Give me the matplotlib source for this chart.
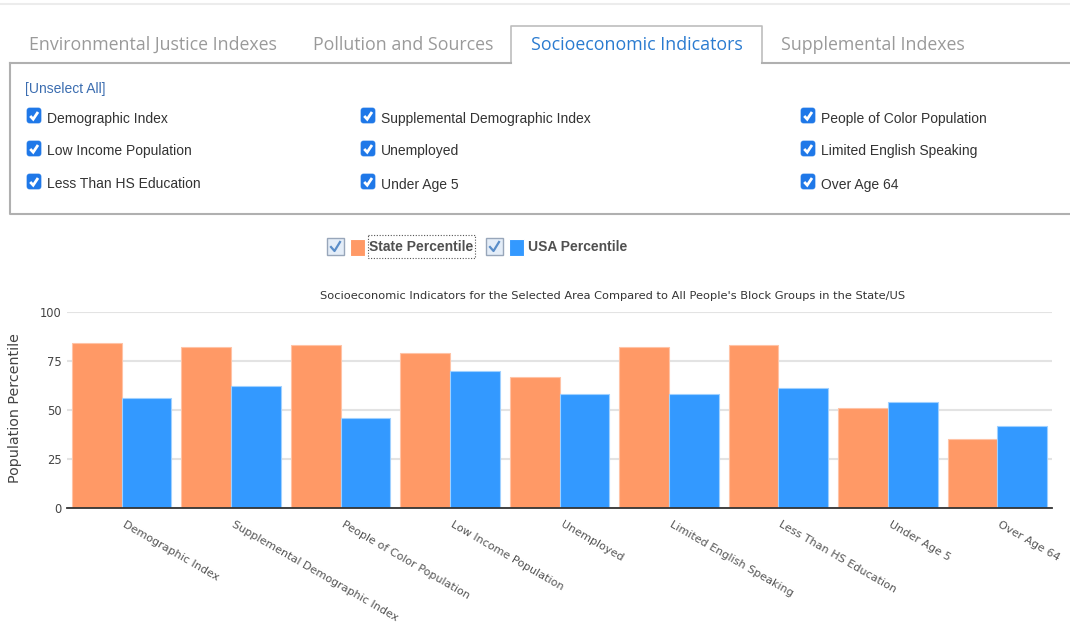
import matplotlib
matplotlib.use("Agg")
import matplotlib.pyplot as plt
from matplotlib.patches import Rectangle, FancyBboxPatch
from matplotlib.transforms import ScaledTranslation
import numpy as np

# chart data
categories = ["Demographic Index", "Supplemental Demographic Index", "People of Color Population",
              "Low Income Population", "Unemployed", "Limited English Speaking",
              "Less Than HS Education", "Under Age 5", "Over Age 64"]
state_pct = [84, 82, 83, 79, 67, 82, 83, 51, 35]
usa_pct = [56, 62, 46, 70, 58, 58, 61, 54, 42]
y_ticks = [0, 25, 50, 75, 100]
series_names = ["State Percentile", "USA Percentile"]
series_colors = ["#ff9966", "#3399ff"]
chart_title = ("Socioeconomic Indicators for the Selected Area Compared to "
               "All People's Block Groups in the State/US")

# page widgets around the chart
tabs = ["Environmental Justice Indexes", "Pollution and Sources",
        "Socioeconomic Indicators", "Supplemental Indexes"]
active_tab = "Socioeconomic Indicators"
checkbox_cols = [
    ["Demographic Index", "Low Income Population", "Less Than HS Education"],
    ["Supplemental Demographic Index", "Unemployed", "Under Age 5"],
    ["People of Color Population", "Limited English Speaking", "Over Age 64"],
]

W, H = 1070, 625
fig = plt.figure(figsize=(W / 100, H / 100), dpi=100)

# overlay axes in pixel units (y down) for the html-ish widgets
ui = fig.add_axes([0, 0, 1, 1])
ui.set_xlim(0, W)
ui.set_ylim(H, 0)
ui.axis("off")

ui.plot([0, W], [4, 4], color="#ececec", lw=1.5)

# tabs
tab_x = [29, 313, 531, 781]
for tx, name in zip(tab_x, tabs):
    col = "#2a7bd0" if name == active_tab else "#9a9a9a"
    ui.text(tx, 44.5, name, ha="left", va="center", fontsize=12.8, color=col,
            family="Open Sans")
ui.plot([511, 511, 762, 762], [63, 26, 26, 63], color="#bdbdbd", lw=1.2)

# panel with checkboxes
ui.plot([10, 511], [63, 63], color="#b0b0b0", lw=1.5)
ui.plot([762, W], [63, 63], color="#b0b0b0", lw=1.5)
ui.plot([10, 10, W], [63, 214, 214], color="#b0b0b0", lw=1.5)
ui.text(25, 89, "[Unselect All]", ha="left", va="center", fontsize=10,
        color="#3b6db0", family="Liberation Sans")


def blue_check(x0, y0):
    ui.add_patch(FancyBboxPatch((x0, y0), 14, 15,
                                boxstyle="round,pad=0,rounding_size=2.5",
                                fc="#1f78e8", ec="#1f78e8", lw=0.5))
    ui.plot([x0 + 3.2, x0 + 6.2, x0 + 11], [y0 + 8, y0 + 11.2, y0 + 4],
            color="white", lw=2, solid_capstyle="butt", solid_joinstyle="miter")


col_x = [27, 361, 801]
row_y = [118, 151, 184]
for cx, names in zip(col_x, checkbox_cols):
    for ry, name in zip(row_y, names):
        blue_check(cx, ry - 10)
        ui.text(cx + 20, ry + 0.5, name, ha="left", va="center", fontsize=10,
                color="#333333", family="Liberation Sans")

# legend row
leg_x = [327, 486]
for lx, name, col in zip(leg_x, series_names, series_colors):
    ui.add_patch(Rectangle((lx, 238), 17, 17, fc="#e4edf8", ec="#98a6ba", lw=1))
    ui.plot([lx + 4, lx + 7.5, lx + 13], [247, 251, 242],
            color="#5a8dc8", lw=1.6)
    ui.add_patch(Rectangle((lx + 23, 239), 15, 17, fc=col, ec="#ffffff", lw=0.8))
    ui.text(lx + 42, 247, name, ha="left", va="center", fontsize=10,
            fontweight="bold", color="#505050", family="Liberation Sans")
ui.add_patch(Rectangle((368, 235), 107, 23, fill=False, ec="#555555",
                       lw=0.8, ls=(0, (1, 1.5))))

# chart
ax = fig.add_axes([67 / W, (H - 508) / H, 985 / W, 196 / H])
x = np.arange(len(categories))
bw = 50 / 110
ax.bar(x - bw / 2, state_pct, bw, color=series_colors[0], edgecolor="#ffc3a6",
       lw=0.8, zorder=3)
ax.bar(x + bw / 2, usa_pct, bw, color=series_colors[1], edgecolor="#9fd0ff",
       lw=0.8, zorder=3)
ax.set_xlim(-0.5, len(categories) - 0.5)
ax.set_ylim(0, 100)
ax.set_yticks(y_ticks)
ax.yaxis.grid(True, color="#e3e3e3", lw=1.5)
ax.set_axisbelow(True)
for s in ["top", "right", "left"]:
    ax.spines[s].set_visible(False)
ax.spines["bottom"].set_color("#333333")
ax.spines["bottom"].set_linewidth(1.3)
ax.spines["bottom"].set_zorder(4)
ax.tick_params(axis="y", length=0, pad=4, labelsize=8.3, labelcolor="#444444")
ax.set_xticks(x)
ax.set_xticklabels(categories, rotation=-30, ha="left", va="top",
                   rotation_mode="anchor", fontsize=8, color="#555555")
ax.tick_params(axis="x", length=0, pad=8)
# nudge the slanted labels a few pixels right
shift = ScaledTranslation(4 / 100, 0, fig.dpi_scale_trans)
for lbl in ax.get_xticklabels():
    lbl.set_transform(lbl.get_transform() + shift)

ui.text(15.5, 408, "Population Percentile", rotation=90, ha="center",
        va="center", fontsize=10.3, color="#444444")
ui.text(613, 296, chart_title, ha="center", va="center", fontsize=8.2,
        color="#333333")

fig.savefig("out.png", dpi=100)
